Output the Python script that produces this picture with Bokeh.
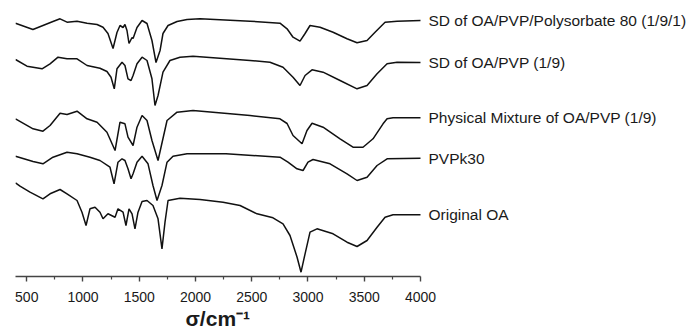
from bokeh.plotting import figure
from bokeh.models import Range1d, FixedTicker, Label, Title
from bokeh.embed import file_html
from bokeh.resources import INLINE

# ---- data: wavenumber (cm-1) and offset transmittance (a.u.) ----
wn_sd_ps = [400, 555, 644, 733, 796, 858, 947, 1036, 1125, 1178, 1222, 1267, 1302, 1329, 1356,
            1373, 1391, 1409, 1436, 1445, 1480, 1525, 1569, 1613, 1649, 1685, 1711, 1756, 1836,
            1925, 2040, 2485, 2751, 2814, 2867, 2929, 2974, 3018, 3107, 3223, 3347, 3436, 3525,
            3596, 3685, 3792, 4000]
t_sd_ps = [253.3, 247, 251, 255, 257.7, 254.3, 255.3, 253.3, 252, 249.3, 243, 228, 244, 251, 249,
           252, 246, 233, 239, 238, 249, 256, 253, 236, 214, 226, 243, 251, 255,
           257, 257.7, 255.3, 253.3, 247.7, 239.3, 235.3, 243, 251, 249.3, 244.3, 237.7, 233.7, 236,
           244.3, 254.3, 255.3, 256]

wn_sd = [400, 502, 556, 636, 707, 778, 858, 947, 1036, 1151, 1213, 1249, 1278, 1302, 1347, 1373,
         1400, 1427, 1445, 1480, 1525, 1569, 1613, 1640, 1667, 1711, 1773, 1862, 1978, 2485, 2662,
         2778, 2867, 2929, 2974, 3036, 3134, 3285, 3436, 3525, 3614, 3703, 3792, 4000]
t_sd = [217, 210.3, 209.3, 207.7, 212.7, 219.3, 217.7, 217.7, 211, 208.3, 205, 199.3, 187.7, 207.7,
        214.3, 211, 197.7, 196, 201, 212.7, 219.3, 216, 197.7, 171, 181, 204.3, 216, 219.3, 220.3,
        216, 214.3, 209.3, 199.3, 191, 201, 206.7, 204.3, 196, 187.7, 191, 202.7, 212.7, 214.3, 214]

wn_pm = [400, 556, 644, 707, 796, 858, 947, 1036, 1125, 1213, 1285, 1329, 1373, 1400, 1445, 1480,
         1525, 1569, 1613, 1667, 1747, 1836, 1978, 2485, 2751, 2814, 2867, 2947, 2991, 3036, 3134,
         3285, 3400, 3489, 3578, 3667, 3703, 3756, 4000]
t_pm = [157.7, 147.7, 145.3, 151, 163.3, 162, 165.3, 157.7, 154.3, 144.3, 126, 154.3, 152.7, 139.3,
        131, 149.3, 161, 156, 136, 116, 156, 164.3, 166, 161, 157.7, 153, 141, 132.7, 146, 153.3,
        149.3, 137.7, 129.3, 129.3, 137.7, 152.7, 157.7, 158.7, 158.7]

wn_pvp = [400, 556, 644, 733, 858, 947, 1062, 1151, 1240, 1276, 1311, 1347, 1373, 1400, 1427, 1445,
          1480, 1525, 1578, 1622, 1658, 1702, 1747, 1800, 1925, 2040, 2271, 2751, 2822, 2902, 2956,
          3000, 3045, 3196, 3347, 3436, 3525, 3614, 3703, 4000]
t_pvp = [120.3, 115, 112.7, 119.3, 124.3, 122.7, 119.3, 116, 109.3, 92.7, 114.3, 117.7, 116, 107.7,
         97.7, 102.7, 114.3, 120.3, 112.7, 91, 76, 91, 114.3, 120.3, 122.7, 122.7, 122.7, 119.3,
         114.3, 107.7, 106, 114.3, 117, 112.7, 102.7, 96, 99.3, 111, 117.7, 118.3]

wn_oa = [400, 440, 529, 644, 707, 796, 858, 947, 991, 1027, 1062, 1107, 1151, 1178, 1222, 1285,
         1311, 1356, 1382, 1409, 1436, 1462, 1489, 1525, 1569, 1622, 1667, 1702, 1729, 1756, 1862,
         2040, 2245, 2396, 2547, 2689, 2778, 2840, 2903, 2938, 2974, 3018, 3080, 3223, 3347, 3436,
         3525, 3614, 3685, 3756, 4000]
t_oa = [93.7, 90.3, 84.3, 77.7, 82.7, 87, 82.7, 76, 64.3, 51, 67.7, 69.3, 64.3, 57.7, 62.7, 59.3,
        67.7, 64.3, 51, 67.7, 62.7, 47.7, 64.3, 75, 76, 71, 57.7, 27.7, 54.3, 76, 78.3,
        77, 74.3, 71, 62.7, 58.7, 52.7, 41, 19.3, 4.3, 22.7, 44.3, 47.7, 42.7, 34.3, 30,
        36, 49.3, 59.3, 61.7, 61.7]

names = ["SD of OA/PVP/Polysorbate 80 (1/9/1)", "SD of OA/PVP (1/9)",
         "Physical Mixture of OA/PVP (1/9)", "PVPk30", "Original OA"]
series = [(wn_sd_ps, t_sd_ps), (wn_sd, t_sd), (wn_pm, t_pm), (wn_pvp, t_pvp), (wn_oa, t_oa)]

major_ticks = [500, 1000, 1500, 2000, 2500, 3000, 3500, 4000]
minor_ticks = [750, 1250, 1750, 2250, 2750, 3250, 3750]
axis_min, axis_max = 400, 4000
x_title = "σ/cm⁻¹"

# frame spans the label area too; the axis itself is bounded to 400-4000
p = figure(width=691, height=331, x_range=Range1d(400, 6409), y_range=Range1d(0, 268),
           output_backend="svg", toolbar_location=None, y_axis_location=None,
           min_border_left=15, min_border_right=0, min_border_top=8, min_border_bottom=55)
p.outline_line_color = None
p.xgrid.visible = False
p.ygrid.visible = False
p.background_fill_color = "white"
p.border_fill_color = "white"

for (xs, ys), name in zip(series, names):
    p.line(xs, ys, line_color="#111111", line_width=1.5)
    p.add_layout(Label(x=xs[-1], y=ys[-1], x_offset=8, text=name, text_baseline="middle",
                       text_font="Liberation Sans", text_font_size="15.5px", text_color="#1a1a1a"))

ax = p.xaxis[0]
ax.bounds = (axis_min, axis_max)
ax.ticker = FixedTicker(ticks=major_ticks, minor_ticks=minor_ticks)
ax.axis_line_color = "#444444"
ax.axis_line_width = 1.6
ax.major_tick_line_color = "#444444"
ax.major_tick_line_width = 1.4
ax.minor_tick_line_color = "#444444"
ax.minor_tick_line_width = 1.2
ax.major_tick_in = 0
ax.major_tick_out = 5
ax.minor_tick_in = 0
ax.minor_tick_out = 3
ax.major_label_text_font = "Liberation Sans"
ax.major_label_text_font_size = "14px"
ax.major_label_text_color = "#1a1a1a"
ax.major_label_standoff = 10

# axis title centred under the 400-4000 axis (not under the whole frame)
p.add_layout(Title(text=x_title, align="left", offset=170, standoff=0,
                   text_font="Liberation Sans", text_font_size="21px",
                   text_font_style="bold", text_color="#1a1a1a"), "below")

open("out.html", "w").write(file_html(p, INLINE))
